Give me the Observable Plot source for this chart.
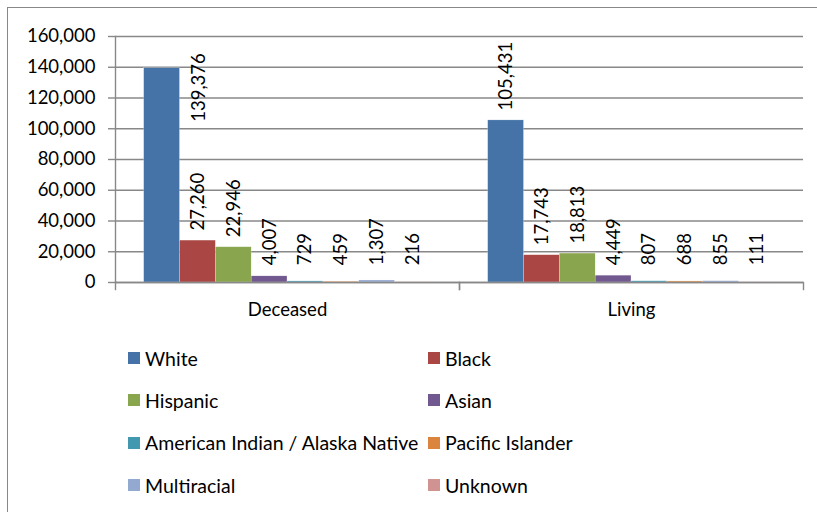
<!DOCTYPE html>
<html>
<head>
<meta charset="utf-8">
<script src="https://cdn.jsdelivr.net/npm/d3@7"></script>
<script src="https://cdn.jsdelivr.net/npm/@observablehq/plot@0.6"></script>
<style>
  body { margin: 0; background: #fff; font-family: Lato, sans-serif; }
  #wrap { position: relative; width: 817px; height: 512px; overflow: hidden; }
  #border { position: absolute; left: 7px; top: 7px; width: 900px; height: 600px;
            border-left: 1.5px solid #888; border-top: 1.5px solid #888; pointer-events: none; }
  #legend { display: grid; grid-template-columns: 300px 300px; padding-left: 128px; }
  .item { height: 42.3px; display: flex; align-items: center; font-size: 19.5px; color: #000; white-space: nowrap; }
  .sw { width: 12px; height: 12px; margin-right: 5px; flex: none; }
</style>
</head>
<body>
<div id="wrap">
  <div id="chart"></div>
  <div id="legend"></div>
  <div id="border"></div>
</div>
<script>
const categories = ["Deceased", "Living"];
const races = ["White", "Black", "Hispanic", "Asian", "American Indian / Alaska Native", "Pacific Islander", "Multiracial", "Unknown"];
const deceased = [139376, 27260, 22946, 4007, 729, 459, 1307, 216];
const living = [105431, 17743, 18813, 4449, 807, 688, 855, 111];
const colors = ["#4572A7", "#AA4643", "#89A54E", "#71588F", "#4198AF", "#DB843D", "#93A9CF", "#D19392"];
const yTicks = [0, 20000, 40000, 60000, 80000, 100000, 120000, 140000, 160000];

const series = {Deceased: deceased, Living: living};
const data = categories.flatMap(c => races.map((r, i) => ({cat: c, race: r, value: series[c][i]})));

const grey = "#888";
const fmt = d3.format(",");
const labelFloor = 4700; // small labels sit just above the axis
const overflow = 125000; // labels too tall for the space above the bar

const chart = Plot.plot({
  width: 817,
  height: 337,
  marginLeft: 115,
  marginRight: 14,
  marginTop: 36,
  marginBottom: 55,
  style: {fontFamily: "Lato, sans-serif", fontSize: "18.5px", color: "#000"},
  fx: {domain: categories, padding: 0},
  x: {domain: races, paddingInner: 0, paddingOuter: 0.8, round: false, axis: null},
  y: {domain: [0, 160000]},
  color: {domain: races, range: colors},
  marks: [
    Plot.gridY(yTicks, {stroke: grey, strokeOpacity: 1, strokeWidth: 1.4}),
    Plot.barY(data, {fx: "cat", x: "race", y: "value", fill: "race", stroke: "#fff", strokeWidth: 0.4, strokeOpacity: 0.6}),
    Plot.ruleY([0], {stroke: grey, strokeWidth: 1.4}),
    Plot.frame({anchor: "left", facetAnchor: "left", stroke: grey, strokeWidth: 1.4}),
    Plot.frame({anchor: "left", insetTop: 246, insetBottom: -7, stroke: grey, strokeWidth: 1.4}),
    Plot.frame({anchor: "right", insetTop: 246, insetBottom: -7, stroke: grey, strokeWidth: 1.4}),
    Plot.axisY(yTicks, {tickSize: 7, tickPadding: 13, tickFormat: fmt, stroke: grey, strokeWidth: 1.4, fill: "#000", label: null, fontSize: 18.5}),
    Plot.axisFx({anchor: "bottom", tickSize: 0, tickPadding: 20, label: null, fill: "#000", fontSize: 18.5}),
    Plot.text(data.filter(d => d.value <= overflow), {
      fx: "cat", x: "race", y: d => Math.max(d.value, labelFloor),
      text: d => fmt(d.value), rotate: -90, textAnchor: "start", dy: -10,
      fill: "#000", fontSize: 18.5
    }),
    Plot.text(data.filter(d => d.value > overflow), {
      fx: "cat", x: "race", y: "value",
      text: d => fmt(d.value), rotate: -90, textAnchor: "end", dy: -15, dx: 37,
      fill: "#000", fontSize: 18.5
    })
  ]
});
document.getElementById("chart").appendChild(chart);

const legend = document.getElementById("legend");
races.forEach((r, i) => {
  const item = document.createElement("div");
  item.className = "item";
  const sw = document.createElement("span");
  sw.className = "sw";
  sw.style.background = colors[i];
  item.appendChild(sw);
  item.appendChild(document.createTextNode(r));
  legend.appendChild(item);
});
</script>
</body>
</html>
